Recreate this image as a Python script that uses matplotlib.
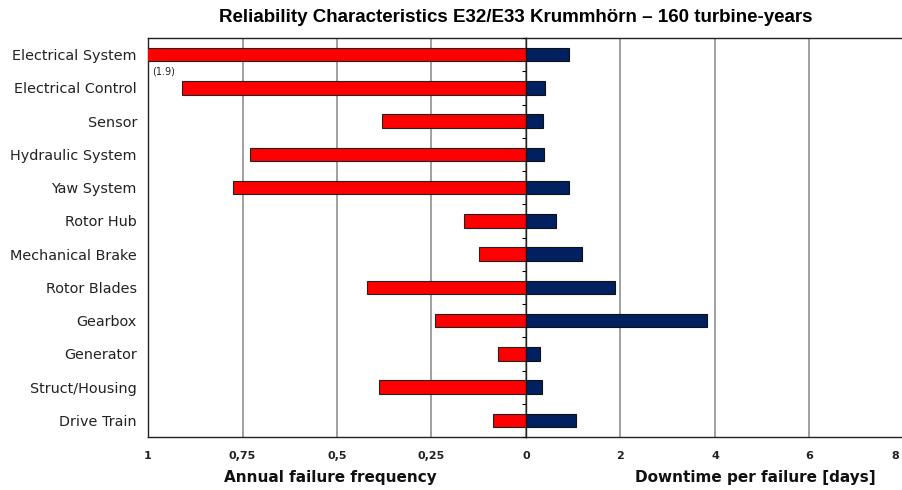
import matplotlib
matplotlib.use("Agg")
import matplotlib.pyplot as plt
import numpy as np

plt.rcParams['font.family'] = ['DejaVu Sans']

categories = ["Electrical System", "Electrical Control", "Sensor", "Hydraulic System",
              "Yaw System", "Rotor Hub", "Mechanical Brake", "Rotor Blades", "Gearbox",
              "Generator", "Struct/Housing", "Drive Train"]
failure_freq = [1.9, 0.91, 0.38, 0.73, 0.775, 0.165, 0.125, 0.42, 0.24, 0.075, 0.39, 0.0875]
downtime_days = [0.9, 0.41, 0.35, 0.39, 0.9, 0.63, 1.19, 1.89, 3.84, 0.29, 0.33, 1.05]
left_ticks = [1, 0.75, 0.5, 0.25, 0]
left_ticklabels = ["1", "0,75", "0,5", "0,25", "0"]
right_ticks = [2, 4, 6, 8]
right_ticklabels = ["2", "4", "6", "8"]

W, H = 903, 490
fig = plt.figure(figsize=(W / 100, H / 100), dpi=100)
x0, xm, x1 = 148 / W, 526 / W, 904 / W
y_top, y_bot = 1 - 38 / H, 1 - 437 / H
axL = fig.add_axes([x0, y_bot, xm - x0, y_top - y_bot])
axR = fig.add_axes([xm, y_bot, x1 - xm, y_top - y_bot])

y = np.arange(len(categories))
red = "#FF0000"
navy = "#002060"
bh = 0.4

axL.barh(y, failure_freq, height=bh, color=red, edgecolor="#222222", linewidth=0.8, zorder=3)
axR.barh(y, downtime_days, height=bh, color=navy, edgecolor="#111111", linewidth=0.8, zorder=3)

for ax in (axL, axR):
    ax.set_ylim(len(categories) - 0.5, -0.5)
    ax.grid(axis="x", color="#999999", linewidth=1.3, zorder=0)
    ax.grid(axis="y", visible=False)
    ax.tick_params(axis="x", length=0, pad=10, labelsize=8, labelcolor="#222222")
    for s in ax.spines.values():
        s.set_color("#222222")
        s.set_linewidth(1.0)

axL.set_xlim(1, 0)
axL.set_xticks(left_ticks)
axL.set_xticklabels(left_ticklabels, fontweight="bold")
axL.set_yticks(y)
axL.set_yticklabels(categories, fontsize=10.4, color="#222222")
axL.tick_params(axis="y", length=0, pad=8)
axL.spines["right"].set_visible(False)

axR.set_xlim(0, 8)
axR.set_xticks(right_ticks)
axR.set_xticklabels(right_ticklabels[:-1] + [""], fontweight="bold")
axR.annotate(right_ticklabels[-1], xy=(right_ticks[-1], 0), xycoords=("data", "axes fraction"),
             xytext=(-6, -10), textcoords="offset points", ha="center", va="top",
             fontsize=8, fontweight="bold", color="#222222", annotation_clip=False)
axR.set_yticks(y)
axR.set_yticklabels([])
axR.set_yticks(np.arange(len(categories) + 1) - 0.5, minor=True)
axR.tick_params(axis="y", which="major", length=0)
axR.tick_params(axis="y", which="minor", length=3, direction="out", width=0.8)
axR.spines["right"].set_visible(False)

fig.text(330 / W, 1 - 477 / H, "Annual failure frequency", fontsize=11, fontweight="bold",
         ha="center", va="center", color="#111111")
fig.text(755 / W, 1 - 477 / H, "Downtime per failure [days]", fontsize=11, fontweight="bold",
         ha="center", va="center", color="#111111")

axL.text(0.99, 0.52, "(1.9)", fontsize=7, va="center", ha="left", color="#222222")

fig.text(516 / W, 1 - 17 / H, "Reliability Characteristics E32/E33 Krummhörn \u2013 160 turbine-years",
         ha="center", va="center", fontsize=13.5, fontweight="bold",
         family=["Liberation Sans", "DejaVu Sans"])

fig.savefig("out.png", dpi=100)
